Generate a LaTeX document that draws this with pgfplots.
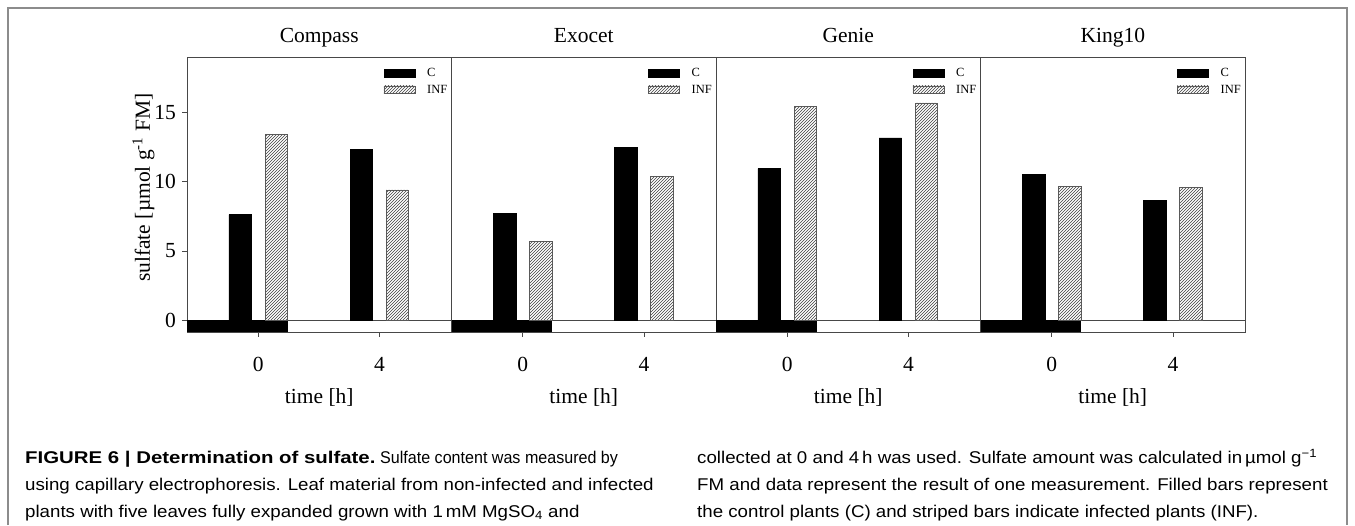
\documentclass[border=0pt]{standalone}
\usepackage{pgfplots}
\pgfplotsset{compat=1.18}
\usepackage{fontspec}
\setmainfont{Liberation Serif}
\newfontfamily\capfont{Liberation Sans}[FakeStretch=1.1]
\newfontfamily\capbf{Liberation Sans}[FakeStretch=1.2]
\usetikzlibrary{patterns}
\definecolor{framegray}{HTML}{8C8C8C}
\definecolor{axgray}{HTML}{484848}

\pgfplotsset{
 panel/.style={
  at={(#1pt,193pt)}, anchor=south west,
  scale only axis, width=264.5pt, height=275pt,
  xmin=-0.587, xmax=1.595, ymin=-0.85, ymax=19,
  axis line style={draw=axgray, line width=0.9pt},
  xtick={0,1}, xticklabels={0,4},
  tick align=outside, major tick length=5pt,
  tick style={draw=axgray, line width=0.7pt},
  xtick pos=lower, ytick pos=left,
  ytick=\empty,
  tick label style={font=\fontsize{21.5}{25}\selectfont},
  label style={font=\fontsize{21.5}{25}\selectfont},
  xticklabel style={anchor=base, yshift=-34pt},
  xlabel={time [h]},
  xlabel style={at={(axis description cs:0.5,0)}, anchor=base, yshift=-71.3pt},
  title style={font=\fontsize{21.5}{25}\selectfont, at={(axis description cs:0.5,1)}, anchor=base, yshift=8pt},
  legend style={at={(axis description cs:1,1)}, anchor=north east, xshift=-2pt, yshift=-9pt,
    draw=none, fill=none, inner sep=0pt, row sep=3pt, column sep=10pt,
    font=\fontsize{12.5}{13}\selectfont},
  legend cell align=left,
 },
}

\newcommand{\panel}[7]{%
\begin{axis}[panel=#1, title={#2}, #7]
 \addlegendimage{legend image code/.code={\draw[black,fill=black] (0pt,-3.85pt) rectangle (31pt,3.85pt);}}
 \addlegendentry{C}
 \addlegendimage{legend image code/.code={\draw[black!65,line width=0.5pt,pattern=north east lines,pattern color=black!75] (0pt,-3.85pt) rectangle (31pt,3.85pt);}}
 \addlegendentry{INF}
 \addplot[axgray, line width=0.6pt, forget plot] coordinates {(-0.587,0) (1.595,0)};
 \addplot[ybar, bar width=0.832, bar shift=0, fill=black, draw=none, forget plot] coordinates {(-0.171,-0.85)};
 \addplot[ybar, bar width=0.185, bar shift=-0.149, fill=black, draw=black, line width=0.4pt, forget plot] coordinates {(0,#3) (1,#4)};
 \addplot[ybar, bar width=0.185, bar shift=0.149, draw=black!65, line width=0.5pt, pattern=north east lines, pattern color=black!75, forget plot] coordinates {(0,#5) (1,#6)};
\end{axis}}

\begin{document}
\begin{tikzpicture}
\useasboundingbox (0pt,0pt) rectangle (1355pt,525pt);
\fill[white] (0pt,0pt) rectangle (1355pt,525pt);
\draw[framegray, line width=1.5pt] (8pt,0pt) -- (8pt,517pt) -- (1347pt,517pt) -- (1347pt,0pt);

\panel{187}{Compass}{7.62}{12.31}{13.39}{9.40}{ytick={0,5,10,15}, yticklabels={0,5,10,15},
  yticklabel style={anchor=east, xshift=-2.5pt},
  ylabel={sulfate [µmol g\textsuperscript{-1} FM]},
  ylabel style={at={(axis description cs:-0.14,0.525)}, anchor=base}}
\panel{451.5}{Exocet}{7.69}{12.50}{5.70}{10.38}{}
\panel{716}{Genie}{10.94}{13.17}{15.45}{15.69}{}
\panel{980.5}{King10}{10.53}{8.65}{9.66}{9.57}{}

\begin{scope}[every node/.style={anchor=base west, inner sep=0pt, font=\capfont\fontsize{17}{20}\selectfont}]
\node at (25pt,61pt) {\capbf\bfseries FIGURE 6 | Determination of sulfate.};
\node at (380pt,61pt) {\scalebox{0.86}[1]{Sulfate content was measured by}};
\node at (25pt,34.3pt) {using capillary electrophoresis. Leaf material from non-infected and infected};
\node at (25pt,7.7pt) {plants with five leaves fully expanded grown with 1\,mM MgSO\textsubscript{4} and};
\node at (697pt,61pt) {collected at 0 and 4\,h was used. Sulfate amount was calculated in\,µmol g\textsuperscript{−1}};
\node at (697pt,34.3pt) {FM and data represent the result of one measurement. Filled bars represent};
\node at (697pt,7.7pt) {the control plants (C) and striped bars indicate infected plants (INF).};
\end{scope}
\end{tikzpicture}
\end{document}
